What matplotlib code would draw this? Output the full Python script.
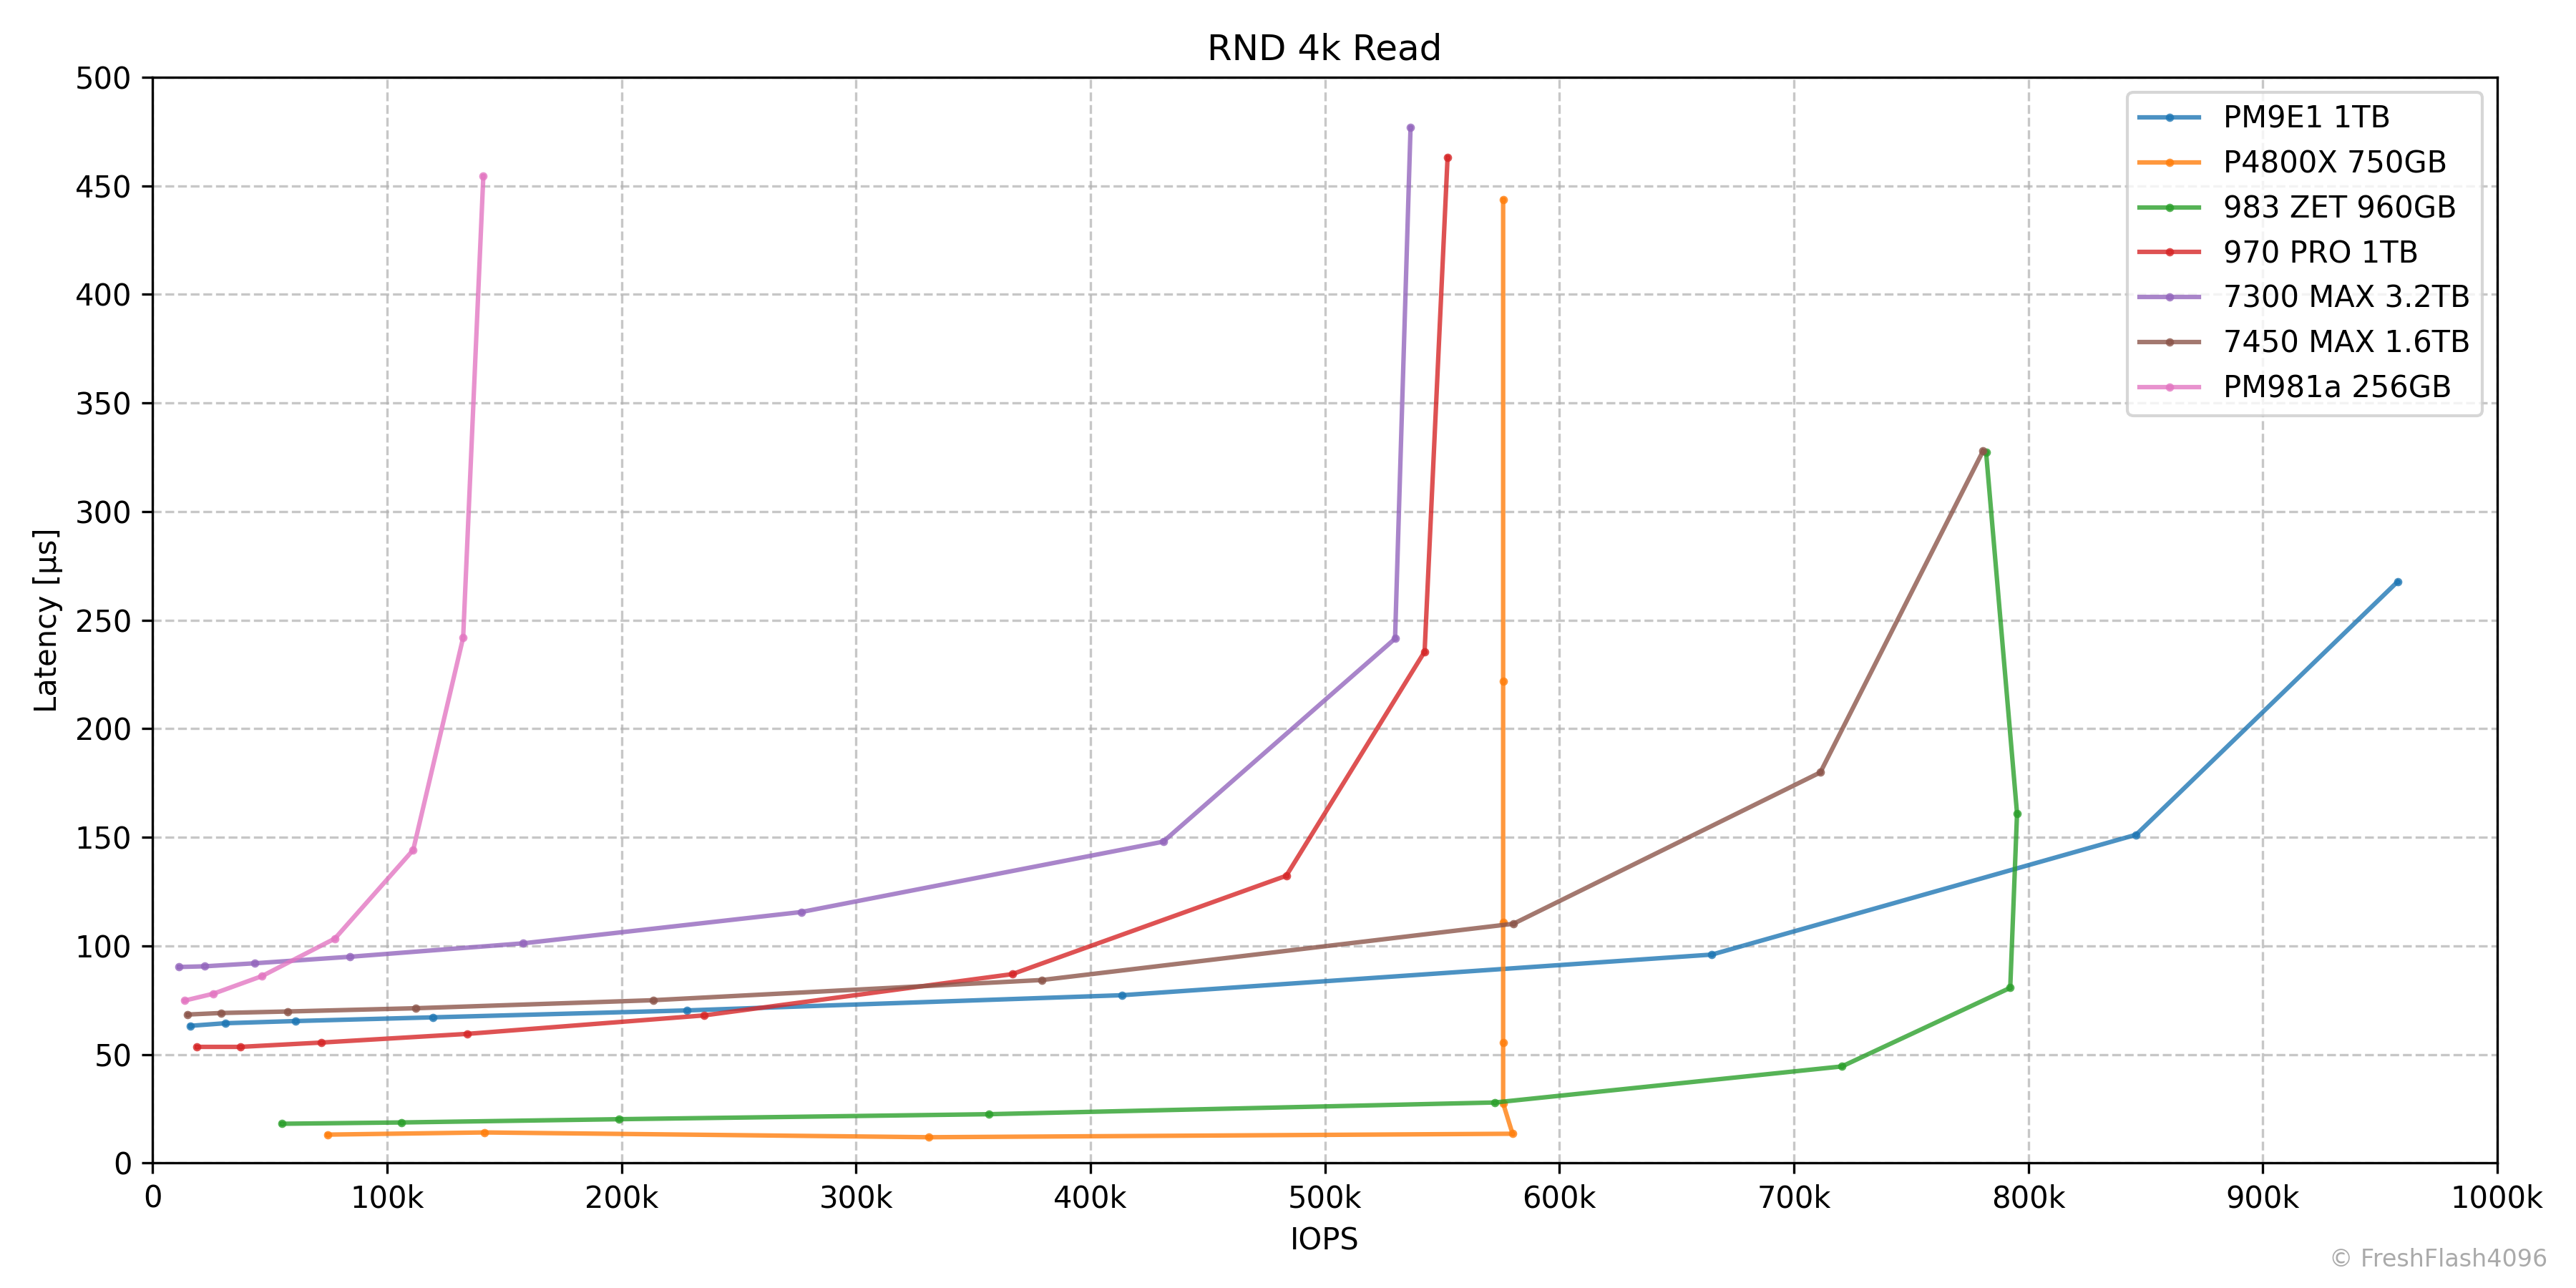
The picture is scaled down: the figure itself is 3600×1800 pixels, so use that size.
import matplotlib
matplotlib.use("Agg")
import matplotlib.pyplot as plt
from matplotlib.ticker import FuncFormatter, MultipleLocator

# IOPS in thousands, latency in microseconds
labels = ["PM9E1 1TB", "P4800X 750GB", "983 ZET 960GB", "970 PRO 1TB",
          "7300 MAX 3.2TB", "7450 MAX 1.6TB", "PM981a 256GB"]

pm9e1_iops = [16, 31, 61, 119.5, 228, 413.5, 665, 846, 957.5]
pm9e1_lat = [63.2, 64.4, 65.4, 67.1, 70.3, 77.3, 96.0, 151.2, 267.7]

p4800x_iops = [74.5, 141.6, 331, 580, 576, 576, 576, 576, 576]
p4800x_lat = [13.1, 14.1, 11.9, 13.5, 27.5, 55.5, 111.0, 222.0, 443.7]

zet983_iops = [55, 106, 199, 356.5, 572.5, 720.5, 792.3, 795.2, 782]
zet983_lat = [18.1, 18.7, 20.2, 22.5, 27.9, 44.5, 80.7, 161.0, 327.3]

pro970_iops = [18.8, 37.3, 72, 134.3, 235.2, 366.6, 483.5, 542.5, 552.3]
pro970_lat = [53.5, 53.5, 55.5, 59.5, 68.0, 87.0, 132.3, 235.5, 463.2]

max7300_iops = [11.2, 22.1, 43.5, 84.1, 158.1, 276.6, 431, 529.9, 536.5]
max7300_lat = [90.3, 90.6, 92.0, 95.0, 101.2, 115.6, 148.0, 241.5, 476.8]

max7450_iops = [14.9, 29.1, 57.5, 112.2, 213.5, 379.3, 580.4, 711.3, 780.7]
max7450_lat = [68.4, 69.1, 69.8, 71.3, 75.0, 84.3, 110.2, 179.9, 327.9]

pm981a_iops = [13.5, 25.9, 46.6, 77.7, 111.1, 132.4, 141.0]
pm981a_lat = [74.8, 78.0, 86.1, 103.4, 144.2, 242.0, 454.4]

series = [
    (pm9e1_iops, pm9e1_lat),
    (p4800x_iops, p4800x_lat),
    (zet983_iops, zet983_lat),
    (pro970_iops, pro970_lat),
    (max7300_iops, max7300_lat),
    (max7450_iops, max7450_lat),
    (pm981a_iops, pm981a_lat),
]

fig = plt.figure(figsize=(12, 6), dpi=300)
ax = fig.add_axes([0.0593, 0.097, 0.9694 - 0.0593, 0.94 - 0.097])

for (xs, ys), lab in zip(series, labels):
    ax.plot(xs, ys, marker="o", markersize=1.8, linewidth=1.5, alpha=0.8, label=lab)

ax.set_xlim(0, 1000)
ax.set_ylim(0, 500)
ax.xaxis.set_major_locator(MultipleLocator(100))
ax.yaxis.set_major_locator(MultipleLocator(50))
ax.xaxis.set_major_formatter(FuncFormatter(lambda v, p: "0" if v == 0 else f"{int(round(v))}k"))
ax.grid(True, linestyle="--", alpha=0.7)
ax.set_axisbelow(True)

ax.set_title("RND 4k Read")
ax.set_xlabel("IOPS")
ax.set_ylabel("Latency [µs]")
ax.legend(loc="upper right")

fig.text(0.989, 0.013, "© FreshFlash4096", ha="right", va="bottom",
         fontsize=8, color="#aaaaaa")

fig.savefig("out.png", dpi=300)
